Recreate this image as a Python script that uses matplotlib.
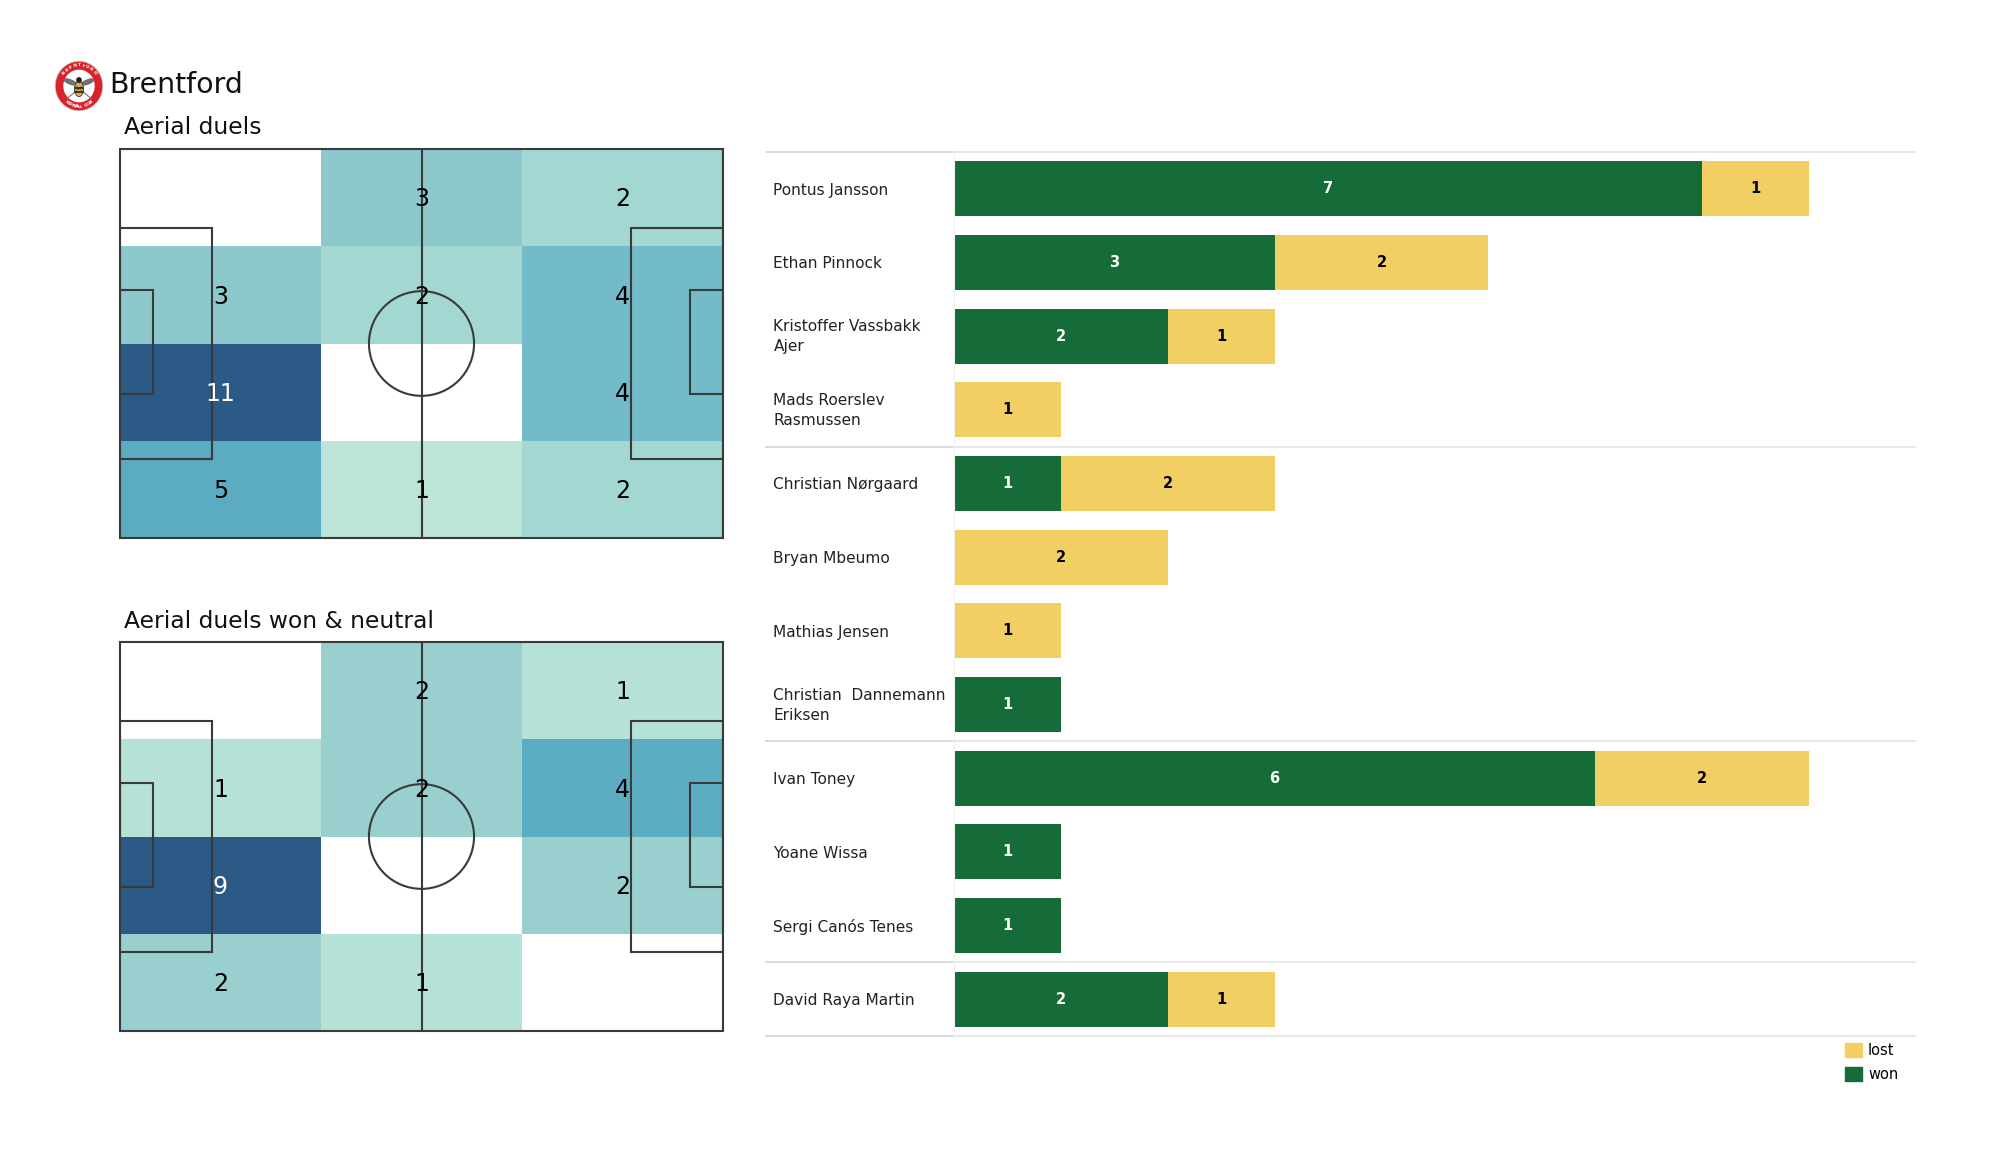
import matplotlib
matplotlib.use("Agg")
import matplotlib.pyplot as plt
from matplotlib.colors import LinearSegmentedColormap, Normalize
from matplotlib.patches import Circle, Ellipse, Rectangle, Patch
from matplotlib.transforms import ScaledTranslation
import numpy as np

W, H = 2000, 1175

# heatmap counts, top row first, left to right
all_duels = [[0, 3, 2],
             [3, 2, 4],
             [11, 0, 4],
             [5, 1, 2]]
won_neutral = [[0, 2, 1],
               [1, 2, 4],
               [9, 0, 2],
               [2, 1, 0]]

players = ["Pontus Jansson", "Ethan Pinnock", "Kristoffer Vassbakk\nAjer",
           "Mads Roerslev\nRasmussen", "Christian Nørgaard", "Bryan Mbeumo",
           "Mathias Jensen", "Christian  Dannemann\nEriksen", "Ivan Toney",
           "Yoane Wissa", "Sergi Canós Tenes", "David Raya Martin"]
won = [7, 3, 2, 0, 1, 0, 0, 1, 6, 1, 1, 2]
lost = [1, 2, 1, 1, 2, 2, 1, 0, 2, 0, 0, 1]
group_lines = [-0.5, 3.5, 7.5, 10.5, 11.5]

GREEN = "#156c39"
YELLOW = "#f2cf63"
LINE = "#3a3a3a"

heat_cmap = LinearSegmentedColormap.from_list("heat", [
    (0.0, "#ffffff"), (0.09, "#bce4d9"), (0.18, "#a3d7d2"), (0.27, "#8cc8cc"),
    (0.36, "#74bcc8"), (0.45, "#5bacc2"), (1.0, "#2b5a87")])


def px_axes(fig, x0, y0, x1, y1):
    # axes placed by pixel box, y measured from the top
    return fig.add_axes([x0 / W, 1 - y1 / H, (x1 - x0) / W, (y1 - y0) / H])


def draw_pitch(ax):
    kw = dict(fill=False, ec=LINE, lw=1.5, zorder=3)
    ax.add_patch(Rectangle((0, 0), 105, 68, clip_on=False, **kw))
    ax.plot([52.5, 52.5], [0, 68], color=LINE, lw=1.5, zorder=3)
    ax.add_patch(Ellipse((52.5, 34), 18.3, 18.3, **kw))
    ax.add_patch(Rectangle((0, 13.84), 16, 40.32, **kw))
    ax.add_patch(Rectangle((89, 13.84), 16, 40.32, **kw))
    ax.add_patch(Rectangle((0, 25.1), 5.7, 18.3, **kw))
    ax.add_patch(Rectangle((99.3, 25.1), 5.7, 18.3, **kw))


def draw_heat(ax, counts):
    counts = np.array(counts)
    xe = np.linspace(0, 105, 4)
    ye = np.linspace(68, 0, 5)
    norm = Normalize(0, counts.max())
    ax.pcolormesh(xe, ye, counts, cmap=heat_cmap, norm=norm, zorder=1)
    for r in range(counts.shape[0]):
        for c in range(counts.shape[1]):
            v = counts[r, c]
            if v > 0:
                ax.text((xe[c] + xe[c + 1]) / 2, (ye[r] + ye[r + 1]) / 2 - 0.3, str(v),
                        ha="center", va="center", fontsize=17, zorder=4,
                        color="white" if v == counts.max() else "black")
    draw_pitch(ax)
    ax.set_xlim(0, 105)
    ax.set_ylim(0, 68)
    ax.axis("off")


def arc_text(ax, s, top=True):
    # tiny lettering round the badge
    angles = np.linspace(140, 40, len(s)) if top else np.linspace(-130, -50, len(s))
    for ch, a in zip(s, angles):
        t = np.deg2rad(a)
        rot = a - 90 if top else a + 90
        ax.text(0.83 * np.cos(t), 0.83 * np.sin(t), ch, color="white", fontsize=3.2,
                fontweight="bold", ha="center", va="center", rotation=rot)


def draw_logo(ax):
    ax.add_patch(Circle((0, 0), 1.0, fc="#d8232a", ec="#c9c9c9", lw=0.6))
    ax.add_patch(Circle((0, 0), 0.66, fc="white", ec="none"))
    arc_text(ax, "BRENTFORD", True)
    arc_text(ax, "FOOTBALL CLUB", False)
    # wings
    ax.add_patch(Ellipse((-0.36, 0.16), 0.62, 0.22, angle=-20, fc="#6e6e6e"))
    ax.add_patch(Ellipse((0.36, 0.16), 0.62, 0.22, angle=20, fc="#6e6e6e"))
    ax.plot([-0.5, 0.5], [-0.5, 0.3], color="#777777", lw=0.8)
    ax.plot([0.5, -0.5], [-0.5, 0.3], color="#777777", lw=0.8)
    # bee body
    ax.add_patch(Ellipse((0, -0.12), 0.38, 0.62, fc="#e0ae3a", ec="#222222", lw=0.5))
    ax.add_patch(Ellipse((0, 0.24), 0.24, 0.24, fc="#222222"))
    ax.plot([-0.17, 0.17], [-0.08, -0.08], color="#222222", lw=1.2)
    ax.plot([-0.15, 0.15], [-0.25, -0.25], color="#222222", lw=1.2)
    ax.set_xlim(-1.05, 1.05)
    ax.set_ylim(-1.05, 1.05)
    ax.axis("off")


fig = plt.figure(figsize=(W / 100, H / 100), dpi=100, facecolor="white")

draw_logo(px_axes(fig, 54, 60, 104, 112))
fig.text(109 / W, 1 - 85 / H, "Brentford", fontsize=20.4, va="center", ha="left", color="#111111")
fig.text(124 / W, 1 - 127 / H, "Aerial duels", fontsize=16.8, va="center", ha="left", color="#111111")
fig.text(124 / W, 1 - 621 / H, "Aerial duels won & neutral", fontsize=16.8, va="center", ha="left", color="#111111")

draw_heat(px_axes(fig, 120, 149, 723, 538), all_duels)
draw_heat(px_axes(fig, 120, 642, 723, 1031), won_neutral)

ax = px_axes(fig, 954, 152, 1916, 1036)
y = np.arange(len(players))
won_bars = ax.barh(y, won, height=0.75, color=GREEN, zorder=2)
lost_bars = ax.barh(y, lost, left=won, height=0.75, color=YELLOW, zorder=2)
ax.bar_label(won_bars, labels=[str(v) if v else "" for v in won], label_type="center",
             color="white", fontsize=10.5, fontweight="bold")
ax.bar_label(lost_bars, labels=[str(v) if v else "" for v in lost], label_type="center",
             color="black", fontsize=10.5, fontweight="bold")

ax.set_xlim(0, 9)
ax.set_ylim(11.5, -0.5)
ax.set_xticks([])
ax.set_yticks(y)
ax.set_yticklabels(players, fontsize=11.1, ha="left", color="#222222", linespacing=1.42)
ax.tick_params(axis="y", length=0, pad=130)
# two line names sit a little higher than plain centring gives
for lab in ax.get_yticklabels():
    if "\n" in lab.get_text():
        lab.set_transform(lab.get_transform() + ScaledTranslation(0, 3.5 / 100, fig.dpi_scale_trans))
for side in ["top", "right", "bottom"]:
    ax.spines[side].set_visible(False)
ax.spines["left"].set_color("#f0f0f0")
ax.spines["left"].set_linewidth(0.8)

# group separators, darker over the names column
ax.hlines(group_lines, 0, 9, color="#e4e4e4", lw=1.2, zorder=1, clip_on=False)
ax.hlines(group_lines, -1.77, 0, color="#d4d4d4", lw=1.2, zorder=1, clip_on=False)

fig.legend(handles=[Patch(color=YELLOW, label="lost"), Patch(color=GREEN, label="won")],
           loc="upper left", bbox_to_anchor=(1845 / W, 1 - 1043 / H), frameon=False,
           fontsize=10.5, borderpad=0, borderaxespad=0, handlelength=1.15, handleheight=1.15,
           labelspacing=0.6, handletextpad=0.42)

fig.savefig("out.png", dpi=100, facecolor="white")
